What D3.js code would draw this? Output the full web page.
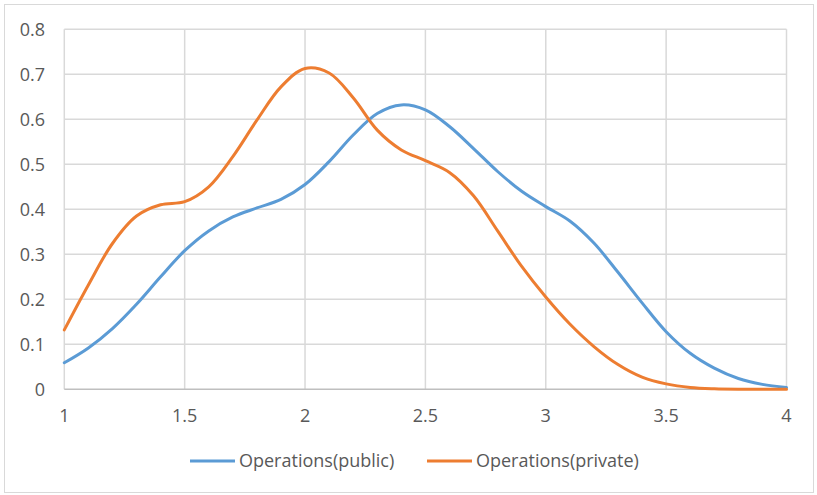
<!DOCTYPE html>
<html>
<head>
<meta charset="utf-8">
<script src="https://cdn.jsdelivr.net/npm/d3@7"></script>
<style>
  html, body { margin: 0; padding: 0; background: #fff; }
  svg { display: block; }
  text { font-family: "Open Sans", "Liberation Sans", sans-serif; fill: #595959; }
</style>
</head>
<body>
<svg id="chart" width="817" height="495"></svg>
<script>
// x positions shared by both density curves
const xValues = [1.0, 1.1, 1.2, 1.3, 1.4, 1.5, 1.6, 1.7, 1.8, 1.9, 2.0,
                 2.1, 2.2, 2.3, 2.4, 2.5, 2.6, 2.7, 2.8, 2.9, 3.0,
                 3.1, 3.2, 3.3, 3.4, 3.5, 3.6, 3.7, 3.8, 3.9, 4.0];

const publicValues = [0.059, 0.092, 0.135, 0.189, 0.250, 0.308, 0.352, 0.383, 0.403, 0.422, 0.455,
                      0.506, 0.565, 0.613, 0.632, 0.621, 0.584, 0.535, 0.484, 0.440, 0.406,
                      0.374, 0.325, 0.260, 0.192, 0.128, 0.080, 0.047, 0.024, 0.011, 0.004];

const privateValues = [0.132, 0.232, 0.324, 0.385, 0.410, 0.417, 0.450, 0.517, 0.598, 0.672, 0.713,
                       0.703, 0.648, 0.576, 0.532, 0.508, 0.482, 0.430, 0.352, 0.273, 0.205,
                       0.145, 0.095, 0.055, 0.027, 0.012, 0.004, 0.001, 0.000, 0.000, 0.000];

const seriesNames = ["Operations(public)", "Operations(private)"];
const seriesColors = ["#5B9BD5", "#ED7D31"];

const xTicks = [1, 1.5, 2, 2.5, 3, 3.5, 4];
const yTicks = [0, 0.1, 0.2, 0.3, 0.4, 0.5, 0.6, 0.7, 0.8];

const svg = d3.select("#chart");

// outer chart frame
svg.append("rect")
  .attr("x", 4.5).attr("y", 4.5)
  .attr("width", 809).attr("height", 488)
  .attr("fill", "#fff")
  .attr("stroke", "#D9D9D9").attr("stroke-width", 1);

const plot = { left: 64.3, right: 786.5, top: 29.3, bottom: 389.3 };

const x = d3.scaleLinear().domain([1, 4]).range([plot.left, plot.right]);
const y = d3.scaleLinear().domain([0, 0.8]).range([plot.bottom, plot.top]);

// horizontal gridlines
svg.append("g")
  .selectAll("line")
  .data(yTicks.filter(d => d > 0))
  .join("line")
  .attr("x1", plot.left).attr("x2", plot.right)
  .attr("y1", d => y(d)).attr("y2", d => y(d))
  .attr("stroke", "#D9D9D9").attr("stroke-width", 1.5);

// vertical gridlines
svg.append("g")
  .selectAll("line")
  .data(xTicks)
  .join("line")
  .attr("x1", d => x(d)).attr("x2", d => x(d))
  .attr("y1", plot.top).attr("y2", plot.bottom)
  .attr("stroke", "#D9D9D9").attr("stroke-width", 1.5);

// horizontal axis line
svg.append("line")
  .attr("x1", plot.left).attr("x2", plot.right)
  .attr("y1", y(0)).attr("y2", y(0))
  .attr("stroke", "#BFBFBF").attr("stroke-width", 1.5);

const fontSize = 18;

// y tick labels
svg.append("g")
  .selectAll("text")
  .data(yTicks)
  .join("text")
  .attr("x", 45)
  .attr("y", d => y(d))
  .attr("dy", "0.36em")
  .attr("text-anchor", "end")
  .attr("font-size", fontSize)
  .text(d => d3.format("")(d));

// x tick labels
svg.append("g")
  .selectAll("text")
  .data(xTicks)
  .join("text")
  .attr("x", d => x(d))
  .attr("y", 416)
  .attr("dy", "0.36em")
  .attr("text-anchor", "middle")
  .attr("font-size", fontSize)
  .text(d => d3.format("")(d));

// smooth density curves
const line = d3.line()
  .x(d => x(d[0]))
  .y(d => y(d[1]))
  .curve(d3.curveCatmullRom.alpha(0.5));

const seriesData = [publicValues, privateValues];
seriesData.forEach((vals, i) => {
  svg.append("path")
    .datum(xValues.map((xv, j) => [xv, vals[j]]))
    .attr("fill", "none")
    .attr("stroke", seriesColors[i])
    .attr("stroke-width", 3)
    .attr("stroke-linecap", "round")
    .attr("d", line);
});

// legend
const legendItems = [
  { name: seriesNames[0], color: seriesColors[0], x0: 190 },
  { name: seriesNames[1], color: seriesColors[1], x0: 427 }
];
const lg = svg.append("g");
legendItems.forEach(item => {
  lg.append("line")
    .attr("x1", item.x0).attr("x2", item.x0 + 45)
    .attr("y1", 461).attr("y2", 461)
    .attr("stroke", item.color).attr("stroke-width", 3);
  lg.append("text")
    .attr("x", item.x0 + 49)
    .attr("y", 461)
    .attr("dy", "0.36em")
    .attr("font-size", fontSize)
    .text(item.name);
});
</script>
</body>
</html>
